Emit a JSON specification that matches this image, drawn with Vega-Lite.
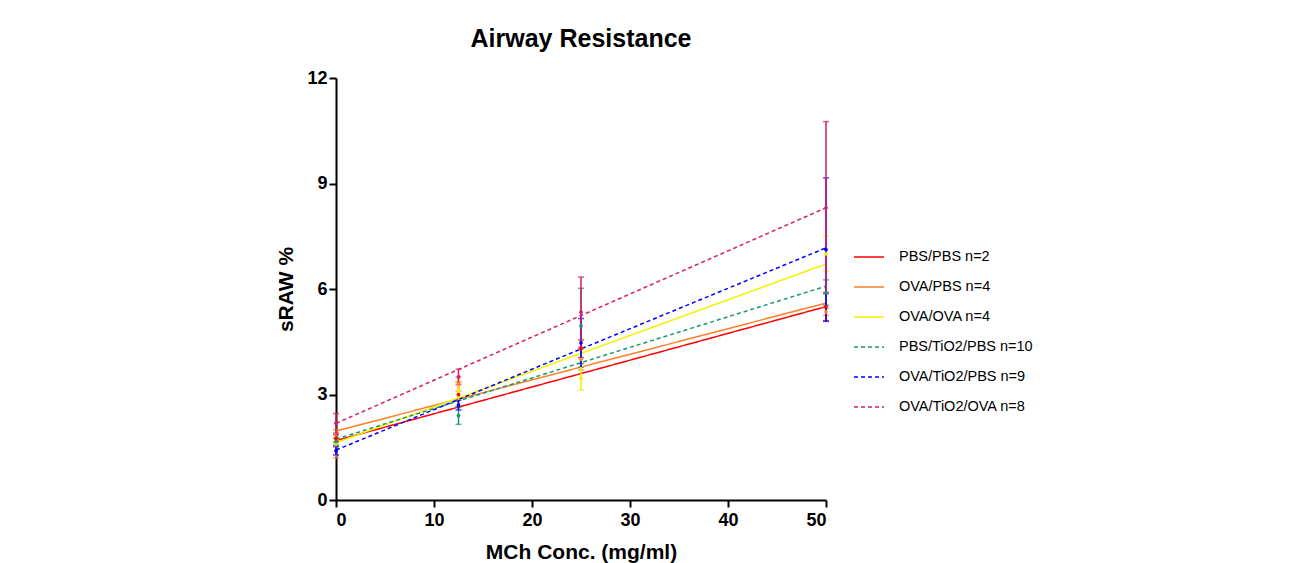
{
  "$schema": "https://vega.github.io/schema/vega-lite/v6.json",
  "autosize": "none",
  "width": 490,
  "height": 422,
  "padding": {"left": 336, "top": 78, "right": 469, "bottom": 63},
  "background": "white",
  "title": {"text": "Airway Resistance", "font": "Liberation Sans", "fontSize": 25, "fontWeight": "bold", "color": "black", "anchor": "middle", "offset": 17},
  "datasets": {
    "fits": [
      {"group": "PBS/PBS n=2", "conc": 0, "sraw": 1.69},
      {"group": "PBS/PBS n=2", "conc": 50, "sraw": 5.5},
      {"group": "OVA/PBS n=4", "conc": 0, "sraw": 1.96},
      {"group": "OVA/PBS n=4", "conc": 50, "sraw": 5.6},
      {"group": "OVA/OVA n=4", "conc": 0, "sraw": 1.63},
      {"group": "OVA/OVA n=4", "conc": 50, "sraw": 6.71},
      {"group": "PBS/TiO2/PBS n=10", "conc": 0, "sraw": 1.73},
      {"group": "PBS/TiO2/PBS n=10", "conc": 50, "sraw": 6.08},
      {"group": "OVA/TiO2/PBS n=9", "conc": 0, "sraw": 1.42},
      {"group": "OVA/TiO2/PBS n=9", "conc": 50, "sraw": 7.17},
      {"group": "OVA/TiO2/OVA n=8", "conc": 0, "sraw": 2.18},
      {"group": "OVA/TiO2/OVA n=8", "conc": 50, "sraw": 8.31}
    ],
    "means": [
      {"group": "PBS/PBS n=2", "conc": 0, "mean": 1.75, "err": 0.1},
      {"group": "PBS/PBS n=2", "conc": 12.5, "mean": 3.0, "err": 0.35},
      {"group": "PBS/PBS n=2", "conc": 25, "mean": 4.3, "err": 0.25},
      {"group": "PBS/PBS n=2", "conc": 50, "mean": 5.5, "err": 0.4},
      {"group": "OVA/PBS n=4", "conc": 0, "mean": 1.6, "err": 0.4},
      {"group": "OVA/PBS n=4", "conc": 12.5, "mean": 3.3, "err": 0.2},
      {"group": "OVA/PBS n=4", "conc": 25, "mean": 4.0, "err": 0.3},
      {"group": "OVA/PBS n=4", "conc": 50, "mean": 5.35, "err": 0.1},
      {"group": "OVA/OVA n=4", "conc": 0, "mean": 1.62, "err": 0.1},
      {"group": "OVA/OVA n=4", "conc": 12.5, "mean": 3.1, "err": 0.25},
      {"group": "OVA/OVA n=4", "conc": 25, "mean": 3.46, "err": 0.33},
      {"group": "OVA/OVA n=4", "conc": 50, "mean": 7.0, "err": 0.5},
      {"group": "PBS/TiO2/PBS n=10", "conc": 0, "mean": 1.66, "err": 0.1},
      {"group": "PBS/TiO2/PBS n=10", "conc": 12.5, "mean": 2.4, "err": 0.25},
      {"group": "PBS/TiO2/PBS n=10", "conc": 25, "mean": 4.95, "err": 1.07},
      {"group": "PBS/TiO2/PBS n=10", "conc": 50, "mean": 5.9, "err": 0.36},
      {"group": "OVA/TiO2/PBS n=9", "conc": 0, "mean": 1.4, "err": 0.12},
      {"group": "OVA/TiO2/PBS n=9", "conc": 12.5, "mean": 2.7, "err": 0.14},
      {"group": "OVA/TiO2/PBS n=9", "conc": 25, "mean": 4.47, "err": 0.69},
      {"group": "OVA/TiO2/PBS n=9", "conc": 50, "mean": 7.12, "err": 2.04},
      {"group": "OVA/TiO2/OVA n=8", "conc": 0, "mean": 2.18, "err": 0.28},
      {"group": "OVA/TiO2/OVA n=8", "conc": 12.5, "mean": 3.5, "err": 0.22},
      {"group": "OVA/TiO2/OVA n=8", "conc": 25, "mean": 5.34, "err": 1.0},
      {"group": "OVA/TiO2/OVA n=8", "conc": 50, "mean": 8.31, "err": 2.45}
    ]
  },
  "config": {
    "view": {"stroke": null},
    "axis": {
      "grid": false,
      "domainColor": "black",
      "domainWidth": 2,
      "tickColor": "black",
      "tickWidth": 2,
      "tickSize": 7,
      "labelFont": "Liberation Sans",
      "labelFontSize": 18,
      "labelFontWeight": "bold",
      "labelColor": "black",
      "labelPadding": 2,
      "titleFont": "Liberation Sans",
      "titleFontSize": 21,
      "titleFontWeight": "bold",
      "titleColor": "black"
    },
    "legend": {
      "labelFont": "Liberation Sans",
      "labelFontSize": 14.5,
      "labelColor": "black"
    }
  },
  "encoding": {
    "x": {
      "field": "conc", "type": "quantitative",
      "scale": {"domain": [0, 50], "nice": false},
      "axis": {"title": "MCh Conc. (mg/ml)", "values": [0, 10, 20, 30, 40, 50], "titlePadding": 12, "labelPadding": 4}
    },
    "y": {
      "field": "sraw", "type": "quantitative", "title": "sRAW %",
      "scale": {"domain": [0, 12], "nice": false},
      "axis": {"title": "sRAW %", "values": [0, 3, 6, 9, 12], "titlePadding": 10}
    },
    "color": {
      "field": "group", "type": "nominal",
      "scale": {
        "domain": ["PBS/PBS n=2", "OVA/PBS n=4", "OVA/OVA n=4", "PBS/TiO2/PBS n=10", "OVA/TiO2/PBS n=9", "OVA/TiO2/OVA n=8"],
        "range": ["#FF0000", "#FF7F2A", "#F2F200", "#16996B", "#0000FF", "#D41C6C"]
      }
    }
  },
  "layer": [
    {
      "data": {"name": "fits"},
      "mark": {"type": "line", "strokeWidth": 1.5},
      "encoding": {
        "strokeDash": {
          "field": "group", "type": "nominal",
          "scale": {
            "domain": ["PBS/PBS n=2", "OVA/PBS n=4", "OVA/OVA n=4", "PBS/TiO2/PBS n=10", "OVA/TiO2/PBS n=9", "OVA/TiO2/OVA n=8"],
            "range": [[1, 0], [1, 0], [1, 0], [4, 3], [4, 3], [4, 3]]
          }
        },
        "color": {
          "field": "group", "type": "nominal",
          "legend": {
            "title": null,
            "orient": "none",
            "legendX": 517,
            "legendY": 163,
            "symbolType": "stroke",
            "symbolSize": 900,
            "symbolStrokeWidth": 1.5,
            "rowPadding": 7,
            "labelOffset": 14
          }
        }
      }
    },
    {
      "data": {"name": "means"},
      "mark": {"type": "errorbar", "ticks": {"size": 6, "thickness": 1.5}, "rule": {"strokeWidth": 1.5}},
      "encoding": {
        "y": {"field": "mean", "type": "quantitative", "title": "sRAW %"},
        "yError": {"field": "err"},
        "color": {"field": "group", "type": "nominal", "legend": null}
      }
    },
    {
      "data": {"name": "means"},
      "mark": {"type": "point", "filled": true, "size": 14, "opacity": 1},
      "encoding": {
        "y": {"field": "mean", "type": "quantitative", "title": "sRAW %"},
        "color": {"field": "group", "type": "nominal", "legend": null}
      }
    }
  ]
}
